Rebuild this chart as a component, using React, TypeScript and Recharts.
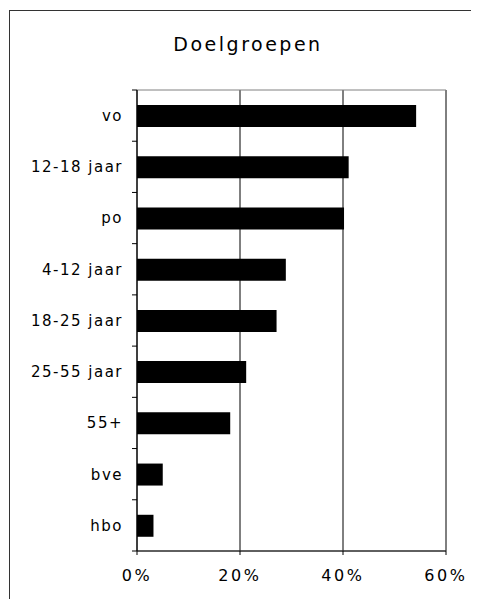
import React from 'react';
import {
  BarChart,
  Bar,
  XAxis,
  YAxis,
  CartesianGrid,
  ReferenceArea,
} from 'recharts';

const groups = ['vo', '12-18 jaar', 'po', '4-12 jaar', '18-25 jaar', '25-55 jaar', '55+', 'bve', 'hbo'];
const shares = [54.2, 41.1, 40.2, 28.9, 27.1, 21.2, 18.1, 5.0, 3.2];
const xTicks = [0, 20, 40, 60];

const data = groups.map((name, i) => ({ name, share: shares[i] }));

const FONT = '"DejaVu Sans", Verdana, sans-serif';

// category label plus the Excel-style tick marks between categories
const GroupTick = (props: any) => {
  const { x, y, payload, index } = props;
  const half = payload.offset || 25.6;
  const axisX = x + 14;
  return (
    <g>
      <text
        x={x}
        y={y}
        dy="0.36em"
        textAnchor="end"
        fontFamily={FONT}
        fontSize={15}
        letterSpacing={1.5}
        fill="#000"
      >
        {payload.value}
      </text>
      <line x1={axisX - 5} x2={axisX} y1={y - half} y2={y - half} stroke="#000" />
      {index === groups.length - 1 && (
        <line x1={axisX - 5} x2={axisX} y1={y + half} y2={y + half} stroke="#000" />
      )}
    </g>
  );
};

export default function App() {
  return (
    <>
      <style>{'html, body { overflow: hidden; }'}</style>
      <div
        style={{
          position: 'relative',
          left: 1,
          top: 2,
          width: 469,
          height: 590,
          borderLeft: '1px solid #333',
          borderTop: '1px solid #333',
          background: '#fff',
        }}
      >
        <div
          style={{
            position: 'absolute',
            left: 0,
            top: 24,
            width: 476,
            textAlign: 'center',
            fontFamily: FONT,
            fontSize: 19,
            lineHeight: 1,
            letterSpacing: 2.5,
            color: '#000',
          }}
        >
          Doelgroepen
        </div>
        <BarChart
          width={469}
          height={590}
          data={data}
          layout="vertical"
          margin={{ top: 79, right: 33, bottom: 20, left: 10 }}
          barSize={22}
        >
          <CartesianGrid vertical horizontal={false} stroke="#000" />
          <ReferenceArea
            x1={0}
            x2={60}
            fill="none"
            fillOpacity={0}
            stroke="#808080"
            strokeOpacity={1}
            ifOverflow="visible"
          />
          <XAxis
            type="number"
            domain={[0, 60]}
            ticks={xTicks}
            tickFormatter={(v) => `${v}%`}
            height={30}
            tickSize={4}
            tickMargin={15}
            axisLine={{ stroke: '#000' }}
            tickLine={{ stroke: '#000' }}
            tick={{ fontFamily: FONT, fontSize: 16, letterSpacing: 2.6, fill: '#000' }}
            interval={0}
          />
          <YAxis
            type="category"
            dataKey="name"
            width={117}
            tickSize={0}
            tickMargin={14}
            tickLine={false}
            axisLine={{ stroke: '#000' }}
            tick={<GroupTick />}
            interval={0}
          />
          <Bar dataKey="share" fill="#000" isAnimationActive={false} />
        </BarChart>
      </div>
    </>
  );
}
